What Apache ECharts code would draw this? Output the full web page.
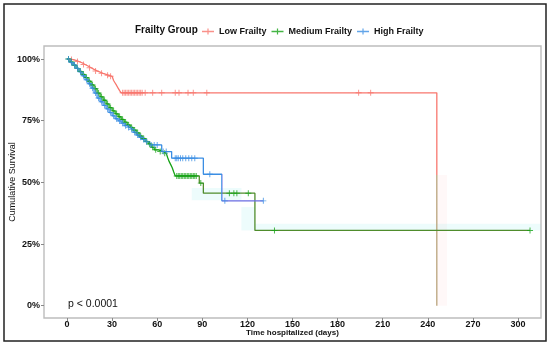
<!DOCTYPE html>
<html><head><meta charset="utf-8">
<script src="https://cdn.jsdelivr.net/npm/echarts@6/dist/echarts.min.js"></script>
<style>html,body{margin:0;padding:0;background:#fff}#c{width:550px;height:346px}</style>
</head><body><div id="c"></div>
<script>
// ---- data ----
const groupNames = ["Low Frailty", "Medium Frailty", "High Frailty"];
const xTicks = [0, 30, 60, 90, 120, 150, 180, 210, 240, 270, 300];
const yTicks = [0, 25, 50, 75, 100];

const lowTime = [0, 2, 4, 6, 8, 10, 12, 14, 16, 18, 20, 22, 24, 26, 28, 30, 31, 32, 33, 34, 35, 36, 246];
const lowSurv = [100, 99.8, 99.5, 99, 98.5, 97.8, 97.2, 96.5, 95.8, 95.2, 94.7, 94.2, 93.8, 93.4, 93.0, 92.2, 91.3, 90.3, 89.3, 88.2, 87.2, 86.3, 0];
const lowCensor = [3, 7, 11, 15, 19, 23, 27, 29, 37, 38, 39, 40, 41, 42, 43, 44, 45, 46, 47, 48, 49, 50, 52, 57, 63, 72, 74.5, 80.5, 84, 93, 194, 202];

const medTime = [0, 2, 4, 6, 8, 10, 12, 14, 16, 18, 20, 22, 24, 26, 28, 30, 32, 34, 36, 38, 40, 42, 44, 46, 48, 50, 52, 54, 56, 58, 61, 64, 66, 67, 68, 69, 70, 71, 72, 88, 90.7, 125, 308];
const medSurv = [100, 98.8, 97.5, 96.2, 95, 93.8, 92.5, 91, 89.5, 88, 86.2, 84.7, 83.3, 81.8, 80.3, 79, 77.8, 76.6, 75.5, 74.4, 73.3, 72.3, 71.2, 70.1, 68.8, 67.8, 66.6, 65.6, 64.2, 63.2, 62.5, 61.8, 61.1, 60, 58.4, 57.2, 55.9, 54.2, 52.6, 49.7, 45.6, 30.5, 30.5];
const medCensor = [1, 3, 5, 7, 9, 11, 13, 15, 17, 19, 21, 23, 25, 27, 29, 31, 33, 35, 37, 39, 41, 43, 45, 47, 49, 51, 53, 55, 57, 59, 62, 65, 73, 74, 75, 76, 77, 78, 79, 80, 81, 82, 83, 84, 85, 86, 89, 108, 111, 113, 120.6, 138, 308];

const highTime = [0, 2, 4, 6, 8, 10, 12, 14, 16, 18, 20, 22, 24, 26, 28, 30, 32, 34, 36, 38, 40, 42, 44, 46, 48, 50, 52, 55, 63, 69.6, 90.7, 103, 130.6];
const highSurv = [100, 98.6, 97.6, 96.2, 94.8, 93.2, 91.6, 90, 88.2, 86.2, 84.2, 82.7, 81.2, 79.8, 78.3, 77, 75.8, 74.9, 74, 73, 72.2, 71.5, 70.3, 69.2, 68.3, 67.4, 66.5, 65.2, 62.5, 59.8, 53.3, 42.5, 42.5];
const highCensor = [1, 3, 5, 7, 9, 11, 13, 15, 17, 19, 21, 23, 25, 27, 29, 31, 33, 35, 37, 39, 41, 43, 45, 47, 49, 51, 53, 56, 58, 60, 64, 66, 72, 73, 74, 75.5, 77, 79, 81, 83, 85, 95, 105, 130.6];

// faint confidence-band patches visible in the reference: [dayFrom, dayTo, pctLow, pctHigh]
const medBands = [[83, 116, 42.8, 47.7], [116, 125, 30.5, 40], [125, 315, 30.5, 33.2]];
const lowBands = [[246.5, 252.8, 0, 53]];

const colors = ["#F8766D", "#17A317", "#3B8EE3"];
const tailColors = ["#B9A27A", "#4F8C2C", "#6A6CE2"];
// where each curve's colour shifts (low: by survival %, others: by day)
const tailCut = [53, 86, 102];

// ---- build ----
function pairs(t, s) { return t.map((v, i) => [v, s[i]]); }
function survAt(t, s, x) { let v = s[0]; for (let i = 0; i < t.length; i++) { if (t[i] <= x && !(s[i] === 0)) v = s[i]; } return v; }
function censorPts(t, s, c) { return c.map(x => [x, survAt(t, s, x)]); }
function bandAreas(b) { return b.map(r => [{ coord: [r[0], r[2]] }, { coord: [r[1], r[3]] }]); }

const plus = 'path://M-0.16,-1H0.16V-0.16H1V0.16H0.16V1H-0.16V0.16H-1V-0.16H-0.16Z';
const legPlus = 'path://M-0.2,-1H0.2V-0.22H2V0.22H0.2V1H-0.2V0.22H-2V-0.22H-0.2Z';

function lineColor(i, t, s) {
  if (i === 0) {
    const top = Math.max(...s), bot = Math.min(...s);
    const f = (top - tailCut[0]) / (top - bot);
    return new echarts.graphic.LinearGradient(0, 0, 0, 1, [
      { offset: 0, color: colors[0] }, { offset: f, color: colors[0] },
      { offset: f, color: tailColors[0] }, { offset: 1, color: tailColors[0] }]);
  }
  const l = Math.min(...t), r = Math.max(...t);
  const f = (tailCut[i] - l) / (r - l);
  return new echarts.graphic.LinearGradient(0, 0, 1, 0, [
    { offset: 0, color: colors[i] }, { offset: f, color: colors[i] },
    { offset: f, color: tailColors[i] }, { offset: 1, color: tailColors[i] }]);
}

const sets = [[lowTime, lowSurv, lowCensor], [medTime, medSurv, medCensor], [highTime, highSurv, highCensor]];
const series = [];
sets.forEach((d, i) => {
  const s = {
    name: groupNames[i] + ' curve', type: 'line', step: 'end', data: pairs(d[0], d[1]),
    showSymbol: false, lineStyle: { width: 1.3, color: lineColor(i, d[0], d[1]) },
    itemStyle: { color: colors[i] }, z: 3 + i
  };
  if (i === 0) s.markArea = { silent: true, itemStyle: { color: 'rgba(248,118,109,0.05)' }, data: bandAreas(lowBands) };
  if (i === 1) s.markArea = { silent: true, itemStyle: { color: 'rgba(0,215,215,0.07)' }, data: bandAreas(medBands) };
  series.push(s);
});
sets.forEach((d, i) => {
  series.push({
    name: groupNames[i], type: 'scatter', data: censorPts(d[0], d[1], d[2]),
    symbol: plus, symbolSize: 6, itemStyle: { color: colors[i] }, z: 6 + i
  });
});

const chart = echarts.init(document.getElementById('c'), null, { renderer: 'canvas' });
chart.setOption({
  animation: false,
  backgroundColor: '#fff',
  grid: { left: 44, right: 9, top: 46, bottom: 28, containLabel: false, outerBoundsMode: 'none', show: true, borderColor: '#bdbdbd', borderWidth: 1.4, backgroundColor: '#fff' },
  legend: {
    data: groupNames.map((n, i) => ({ name: n, icon: legPlus, itemStyle: { color: colors[i], borderWidth: 0 } })),
    left: 197, top: 22, itemWidth: 12, itemHeight: 6, itemGap: 5, selectedMode: false,
    textStyle: { fontFamily: 'Liberation Sans, Arial', fontWeight: 'bold', fontSize: 9, color: '#111' }
  },
  xAxis: {
    type: 'value', min: -15.3, max: 315.3,
    axisLine: { show: false, onZero: false },
    axisTick: { show: true, customValues: xTicks, length: 3, lineStyle: { color: '#888' } },
    axisLabel: { customValues: xTicks, fontFamily: 'Liberation Sans, Arial', fontWeight: 'bold', fontSize: 9, color: '#111', margin: 2 },
    splitLine: { show: false },
    name: 'Time hospitalized (days)', nameLocation: 'middle', nameGap: 11, nameMoveOverlap: false,
    nameTextStyle: { fontFamily: 'Liberation Sans, Arial', fontWeight: 'bold', fontSize: 8, color: '#111' }
  },
  yAxis: {
    type: 'value', min: -5.0, max: 105.3,
    axisLine: { show: false, onZero: false },
    axisTick: { show: true, customValues: yTicks, length: 3, lineStyle: { color: '#888' } },
    axisLabel: { customValues: yTicks, formatter: v => v + '%', fontFamily: 'Liberation Sans, Arial', fontWeight: 'bold', fontSize: 9, color: '#111', margin: 4 },
    splitLine: { show: false },
    name: 'Cumulative Survival', nameLocation: 'middle', nameGap: 27, nameRotate: 90, nameMoveOverlap: false,
    nameTextStyle: { fontFamily: 'Liberation Sans, Arial', fontSize: 9, color: '#111' }
  },
  graphic: [
    { type: 'rect', shape: { x: 4, y: 4, width: 542, height: 337 }, style: { fill: 'none', stroke: '#222', lineWidth: 1.5 }, z: 100, silent: true },
    { type: 'text', left: 135, top: 25, style: { text: 'Frailty Group', font: 'bold 10px "Liberation Sans", Arial', fill: '#111' } },
    { type: 'text', left: 68, top: 299, style: { text: 'p < 0.0001', font: '10.5px "Liberation Sans", Arial', fill: '#111' } }
  ],
  series: series
});
</script></body></html>
